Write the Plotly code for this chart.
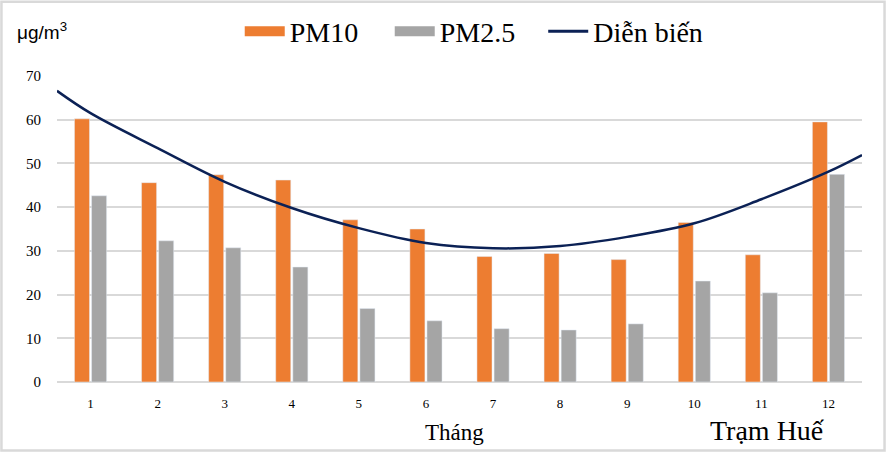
import plotly.graph_objects as go

months = list(range(1, 13))
pm10 = [60.2, 45.6, 47.4, 46.2, 37.1, 35.0, 28.7, 29.4, 28.0, 36.5, 29.1, 59.5]
pm25 = [42.6, 32.3, 30.7, 26.3, 16.8, 14.0, 12.2, 11.9, 13.3, 23.1, 20.4, 47.5]

# trend line (extends to the plot edges)
trend_x = [0.5, 1, 2, 3, 4, 5, 6, 7, 8, 9, 10, 11, 12, 12.5]
trend_y = [66.6, 61.5, 53.5, 45.8, 39.8, 35.2, 31.8, 30.6, 31.1, 33.2, 36.3, 41.8, 48.1, 51.9]

ORANGE = "#ED7D31"
GRAY = "#A5A5A5"
NAVY = "#0B2155"
serif = "Liberation Serif"

fig = go.Figure()

fig.add_trace(go.Bar(x=months, y=pm10, name="PM10", marker_color=ORANGE, showlegend=False))
fig.add_trace(go.Bar(x=months, y=pm25, name="PM2.5", marker_color=GRAY, showlegend=False))
fig.add_trace(go.Scatter(x=trend_x, y=trend_y, mode="lines", line=dict(color=NAVY, width=2.5, shape="spline"),
                         showlegend=False))

# legend entries
fig.add_trace(go.Scatter(x=[None], y=[None], mode="lines", name="PM10", line=dict(color=ORANGE, width=11)))
fig.add_trace(go.Scatter(x=[None], y=[None], mode="lines", name="PM2.5", line=dict(color=GRAY, width=11)))
fig.add_trace(go.Scatter(x=[None], y=[None], mode="lines", name="Diễn biến", line=dict(color=NAVY, width=3),
                         legend="legend2"))

legend_style = dict(orientation="h", xanchor="left", y=1.145, yanchor="middle",
                    bgcolor="rgba(0,0,0,0)", font=dict(family=serif, size=28), itemwidth=40,
                    traceorder="normal")

fig.update_layout(
    width=886, height=452,
    margin=dict(l=57, r=24, t=76, b=70, autoexpand=False),
    paper_bgcolor="white", plot_bgcolor="white",
    barmode="group", bargap=0.49, bargroupgap=0.12,
    font=dict(family=serif, color="black"),
    legend=dict(x=0.227, entrywidth=95, **legend_style),
    legend2=dict(x=0.604, **legend_style),
    xaxis=dict(range=[0.5, 12.5], tickmode="array", tickvals=months, ticktext=[str(m) for m in months],
               showgrid=False, zeroline=False, showline=False, ticks="",
               tickfont=dict(family=serif, size=13), ticklabelstandoff=12),
    yaxis=dict(range=[0, 70], dtick=10, showgrid=True, gridcolor="#D9D9D9", gridwidth=1.5,
               zeroline=True, zerolinecolor="#D9D9D9", zerolinewidth=1.5, showline=False, ticks="",
               tickfont=dict(family=serif, size=15), ticklabelstandoff=15),
    annotations=[
        dict(text="μg/m<sup>3</sup>", xref="paper", yref="paper", x=-0.052, y=1.148, xanchor="left",
             yanchor="middle", showarrow=False, font=dict(family="Liberation Sans", size=19)),
        dict(text="Tháng", xref="paper", yref="paper", x=0.494, y=-0.165, xanchor="center",
             yanchor="middle", showarrow=False, font=dict(family=serif, size=23)),
        dict(text="Trạm Huế", xref="paper", yref="paper", x=0.883, y=-0.16, xanchor="center",
             yanchor="middle", showarrow=False, font=dict(family=serif, size=28)),
    ],
    shapes=[dict(type="rect", xref="paper", yref="paper", x0=-0.069, x1=1.028, y0=-0.224, y1=1.243,
                 line=dict(color="#D9D9D9", width=2.5), fillcolor="rgba(0,0,0,0)", layer="below")],
)

fig.write_html("out.html", config={"displayModeBar": False},
               post_script="document.body.style.margin='0px';")
